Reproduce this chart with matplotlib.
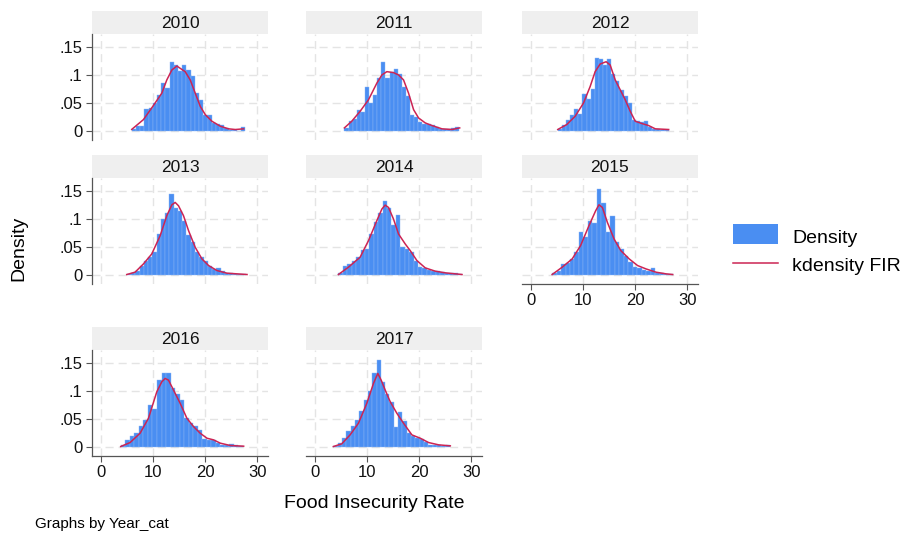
import matplotlib
matplotlib.use("Agg")
import matplotlib.pyplot as plt
from matplotlib.patches import Rectangle
from matplotlib.lines import Line2D

plt.rcParams['font.family'] = ['Liberation Sans', 'DejaVu Sans']
plt.rcParams['lines.scale_dashes'] = False

# values
years = ["2010", "2011", "2012", "2013", "2014", "2015", "2016", "2017"]
bin_start = [5.9, 5.65, 5.14, 4.95, 4.5, 4.06, 3.8, 3.53]
bin_width = [0.81, 0.79, 0.79, 0.82, 0.85, 0.86, 0.87, 0.83]

hist_2010 = [0.002, 0.008, 0.008, 0.039, 0.041, 0.05, 0.064, 0.085, 0.076, 0.123, 0.117, 0.106, 0.117, 0.108,
             0.097, 0.067, 0.055, 0.028, 0.027, 0.014, 0.011, 0.009, 0.005, 0.001, 0.001, 0.0, 0.007]
hist_2011 = [0.005, 0.017, 0.02, 0.036, 0.034, 0.078, 0.049, 0.064, 0.095, 0.122, 0.094, 0.104, 0.110, 0.101,
             0.078, 0.061, 0.028, 0.025, 0.015, 0.012, 0.011, 0.009, 0.006, 0.002, 0.002, 0.002, 0.004, 0.006]
hist_2012 = [0.002, 0.009, 0.018, 0.028, 0.039, 0.030, 0.065, 0.056, 0.074, 0.130, 0.129, 0.117, 0.129, 0.101,
             0.088, 0.073, 0.061, 0.049, 0.018, 0.017, 0.015, 0.017, 0.006, 0.003, 0.002, 0.001, 0.001]
hist_2013 = [0.001, 0.002, 0.007, 0.016, 0.025, 0.032, 0.040, 0.073, 0.099, 0.111, 0.144, 0.120, 0.113, 0.096,
             0.070, 0.058, 0.040, 0.031, 0.025, 0.016, 0.010, 0.012, 0.006, 0.002, 0.002, 0.001, 0.001, 0.0005]
hist_2014 = [0.002, 0.016, 0.019, 0.025, 0.032, 0.044, 0.046, 0.073, 0.095, 0.111, 0.132, 0.120, 0.089, 0.107,
             0.050, 0.046, 0.040, 0.025, 0.014, 0.012, 0.008, 0.007, 0.006, 0.004, 0.002, 0.002, 0.002, 0.001]
hist_2015 = [0.002, 0.007, 0.018, 0.020, 0.028, 0.040, 0.076, 0.068, 0.096, 0.092, 0.154, 0.129, 0.077, 0.104,
             0.058, 0.046, 0.034, 0.022, 0.013, 0.012, 0.008, 0.006, 0.011, 0.002, 0.002, 0.001, 0.001]
hist_2016 = [0.003, 0.011, 0.018, 0.024, 0.037, 0.048, 0.074, 0.068, 0.119, 0.132, 0.132, 0.104, 0.095, 0.083,
             0.052, 0.042, 0.036, 0.030, 0.013, 0.012, 0.011, 0.007, 0.003, 0.002, 0.004, 0.002, 0.001]
hist_2017 = [0.001, 0.006, 0.015, 0.027, 0.036, 0.048, 0.063, 0.083, 0.100, 0.132, 0.155, 0.116, 0.095, 0.080,
             0.035, 0.061, 0.045, 0.024, 0.019, 0.015, 0.013, 0.008, 0.003, 0.002, 0.002, 0.001, 0.002]

kx_2010 = [5.91, 8.16, 9.96, 11.69, 12.65, 13.62, 14.58, 15.22, 16.18, 17.15, 18.11, 19.08, 20.04, 21.32, 22.93, 24.53, 25.82, 27.42]
ky_2010 = [0.002, 0.0196, 0.0433, 0.067, 0.0907, 0.1085, 0.1156, 0.1115, 0.1055, 0.0907, 0.067, 0.0433, 0.0285, 0.0166, 0.0077, 0.003, 0.0018, 0.003]
kx_2011 = [5.65, 7.06, 8.67, 10.28, 11.88, 12.85, 13.81, 15.09, 16.06, 17.02, 17.98, 18.95, 19.91, 21.19, 22.48, 24.41, 26.33, 27.81]
ky_2011 = [0.0047, 0.0166, 0.0344, 0.0551, 0.0848, 0.0996, 0.1055, 0.1038, 0.0996, 0.0907, 0.067, 0.0374, 0.0225, 0.0136, 0.0089, 0.003, 0.0018, 0.0047]
kx_2012 = [5.14, 6.87, 8.48, 10.09, 11.37, 12.33, 13.29, 14.45, 15.22, 16.19, 17.15, 18.11, 19.08, 20.04, 21.32, 22.61, 23.89, 26.46]
ky_2012 = [0.0018, 0.0107, 0.0255, 0.0492, 0.0789, 0.1055, 0.1192, 0.1233, 0.1174, 0.0907, 0.0729, 0.0551, 0.0344, 0.0166, 0.0125, 0.0089, 0.003, 0.0018]
kx_2013 = [4.95, 6.55, 8.16, 9.76, 11.37, 12.65, 13.62, 14.26, 14.9, 15.86, 16.83, 18.11, 19.4, 20.68, 22.29, 24.21, 26.14, 28.07]
ky_2013 = [0.0, 0.0042, 0.019, 0.0369, 0.0696, 0.1054, 0.125, 0.1292, 0.1232, 0.1054, 0.0786, 0.0488, 0.028, 0.0161, 0.0071, 0.0024, 0.0012, 0.0]
kx_2014 = [4.5, 6.42, 8.67, 10.28, 11.88, 12.85, 13.49, 14.13, 15.09, 16.06, 17.34, 18.3, 19.59, 21.19, 23.12, 25.05, 26.97, 28.26]
ky_2014 = [0.0, 0.0131, 0.031, 0.0607, 0.0964, 0.1173, 0.1244, 0.1202, 0.0994, 0.0726, 0.0548, 0.0429, 0.025, 0.0119, 0.006, 0.003, 0.0012, 0.0]
kx_2015 = [4.06, 5.99, 7.92, 9.53, 11.14, 12.43, 13.07, 13.72, 14.68, 15.97, 17.26, 18.87, 20.48, 22.09, 24.02, 25.95, 27.24]
ky_2015 = [0.0, 0.0131, 0.028, 0.0518, 0.0875, 0.1143, 0.125, 0.1202, 0.0935, 0.0637, 0.0429, 0.028, 0.0161, 0.0101, 0.0042, 0.0012, 0.0]
kx_2016 = [3.79, 5.59, 7.51, 9.12, 10.73, 11.69, 12.33, 12.97, 13.94, 15.22, 16.51, 17.79, 19.07, 20.36, 21.64, 22.93, 24.86, 27.42]
ky_2016 = [0.0, 0.0071, 0.0238, 0.0506, 0.0982, 0.1161, 0.122, 0.119, 0.1012, 0.0774, 0.0506, 0.0357, 0.0238, 0.0149, 0.0119, 0.006, 0.0018, 0.0006]
kx_2017 = [3.53, 5.14, 6.74, 8.35, 9.96, 11.24, 12.07, 12.72, 13.49, 14.45, 15.74, 17.02, 18.63, 20.23, 21.84, 23.76, 26.01]
ky_2017 = [0.0, 0.0048, 0.0208, 0.0417, 0.0774, 0.1131, 0.131, 0.119, 0.1012, 0.0804, 0.0595, 0.0417, 0.0208, 0.0149, 0.0071, 0.003, 0.0012]

hists = [hist_2010, hist_2011, hist_2012, hist_2013, hist_2014, hist_2015, hist_2016, hist_2017]
kxs = [kx_2010, kx_2011, kx_2012, kx_2013, kx_2014, kx_2015, kx_2016, kx_2017]
kys = [ky_2010, ky_2011, ky_2012, ky_2013, ky_2014, ky_2015, ky_2016, ky_2017]

xticks = [0, 10, 20, 30]
yticks = [0, 0.05, 0.1, 0.15]
ytick_labels = ["0", ".05", ".1", ".15"]

BAR_COLOR = "#4a8ef2"
LINE_COLOR = "#cc2453"
GRID_COLOR = "#e4e4e4"
AXIS_COLOR = "#555555"

W, H = 904, 533


def rect(x0, y0, x1, y1):
    # pixel box (top-left origin) -> figure fraction
    return [x0 / W, 1 - y1 / H, (x1 - x0) / W, (y1 - y0) / H]


fig = plt.figure(figsize=(W / 100, H / 100), dpi=100)

cols = [(92, 268), (306, 482), (522, 698)]
rows = [(34, 140), (178, 284), (350, 456)]
bottom_panels = {5, 6, 7}

for i, year in enumerate(years):
    r, c = divmod(i, 3)
    x0, x1 = cols[c]
    y0, y1 = rows[r]

    # header strip
    hax = fig.add_axes(rect(x0, y0 - 23, x1, y0))
    hax.set_facecolor("#efefef")
    hax.set_xticks([]); hax.set_yticks([])
    for s in hax.spines.values():
        s.set_visible(False)
    hax.text(0.5, 0.45, year, ha="center", va="center", fontsize=12.5, color="#111111")

    ax = fig.add_axes(rect(x0, y0, x1, y1))
    ax.set_axisbelow(True)
    lefts = [bin_start[i] + k * bin_width[i] for k in range(len(hists[i]))]
    ax.bar(lefts, hists[i], width=bin_width[i], align="edge", color=BAR_COLOR,
           edgecolor="#8db6f5", linewidth=0.3)
    ax.plot(kxs[i], kys[i], color=LINE_COLOR, lw=1.1)

    ax.set_xlim(-1.73, 32.1)
    ax.set_ylim(-0.017, 0.173)
    ax.set_xticks(xticks)
    ax.set_yticks(yticks)
    ax.set_yticklabels(ytick_labels)
    ax.grid(True, color=GRID_COLOR, lw=1.0, linestyle=(0, (5.8, 3.6)))
    for s in ["top", "right"]:
        ax.spines[s].set_visible(False)
    ax.spines["left"].set_color(AXIS_COLOR)
    ax.spines["bottom"].set_color(AXIS_COLOR)
    ax.spines["left"].set_linewidth(0.9)
    ax.spines["bottom"].set_linewidth(0.9)
    ax.tick_params(colors=AXIS_COLOR, labelcolor="#111111", labelsize=12,
                   length=4.3, width=0.8, pad=2.5)

    if c != 0:
        ax.spines["left"].set_visible(False)
        ax.tick_params(left=False, labelleft=False)
    if i not in bottom_panels:
        ax.spines["bottom"].set_visible(False)
        ax.tick_params(bottom=False, labelbottom=False)

# axis titles
fig.text(374 / W, 1 - 508 / H, "Food Insecurity Rate", ha="center", va="baseline", fontsize=14)
fig.text(19 / W, 1 - 248 / H, "Density", ha="center", va="center", rotation=90, fontsize=14)
fig.text(35 / W, 1 - 528 / H, "Graphs by Year_cat", ha="left", va="baseline", fontsize=11)

# legend
fig.patches.append(Rectangle((733 / W, 1 - 244 / H), 45 / W, 20 / H, transform=fig.transFigure,
                             facecolor=BAR_COLOR, edgecolor="none"))
fig.lines.append(Line2D([733 / W, 778 / W], [1 - 263 / H, 1 - 263 / H], transform=fig.transFigure,
                        color=LINE_COLOR, lw=1.1))
fig.text(792 / W, 1 - 243 / H, "Density", ha="left", va="baseline", fontsize=14)
fig.text(792 / W, 1 - 271 / H, "kdensity FIR", ha="left", va="baseline", fontsize=14)

fig.savefig("out.png", dpi=100)
